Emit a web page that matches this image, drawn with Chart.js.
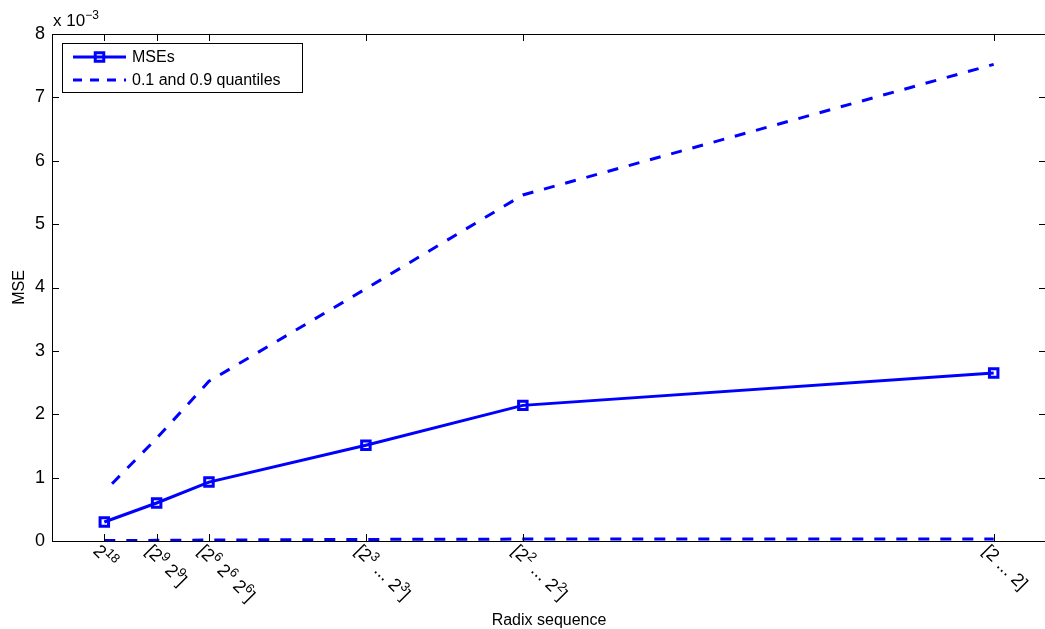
<!DOCTYPE html>
<html>
<head>
<meta charset="utf-8">
<script src="https://cdn.jsdelivr.net/npm/chart.js@4.4.1/dist/chart.umd.min.js"></script>
<style>
  html, body { margin: 0; padding: 0; background: #fff; overflow: hidden; }
  #wrap { position: relative; width: 1055px; height: 629px; }
</style>
</head>
<body>
<div id="wrap"><canvas id="graphs"></canvas></div>
<script>
// x position = number of stages in the radix sequence
const stages = [1, 2, 3, 6, 9, 18];
const radixLabels = ['2^{18}', '[2^9 2^9]', '[2^6 2^6 2^6]', '[2^3 ... 2^3]', '[2^2 ... 2^2]', '[2 ... 2]'];
const mse = [0.30e-3, 0.60e-3, 0.93e-3, 1.51e-3, 2.14e-3, 2.65e-3];
const q10 = [0.008e-3, 0.010e-3, 0.015e-3, 0.025e-3, 0.030e-3, 0.030e-3];
const q90 = [0.78e-3, 1.62e-3, 2.52e-3, 3.98e-3, 5.46e-3, 7.52e-3];
const yTickStep = 0.001;

const FONT = "'Liberation Sans', Arial, Helvetica, sans-serif";
const BLUE = 'rgb(0, 0, 255)';

const toPoints = arr => arr.map((v, i) => ({ x: stages[i], y: v }));

// split "2^{18}" style strings into normal / superscript runs
function parseTex(s) {
  const parts = [];
  const re = /\^(\{([^}]*)\}|(.))/g;
  let last = 0, m;
  while ((m = re.exec(s))) {
    if (m.index > last) parts.push({ t: s.slice(last, m.index), sup: false });
    parts.push({ t: m[2] !== undefined ? m[2] : m[3], sup: true });
    last = re.lastIndex;
  }
  if (last < s.length) parts.push({ t: s.slice(last), sup: false });
  return parts;
}

function drawRich(ctx, parts, x, y, size) {
  let cx = x;
  parts.forEach(p => {
    const fs = p.sup ? Math.round(size * 0.72) : size;
    ctx.font = fs + 'px ' + FONT;
    ctx.fillText(p.t, cx, p.sup ? y - size * 0.42 : y);
    cx += ctx.measureText(p.t).width;
  });
}

const axesDecor = {
  id: 'axesDecor',
  afterDraw(chart) {
    const { ctx, chartArea: a, scales: { x, y } } = chart;
    ctx.save();
    ctx.strokeStyle = '#000';
    ctx.lineWidth = 1;
    ctx.strokeRect(a.left + 0.5, a.top + 0.5, a.right - a.left, a.bottom - a.top);

    // inward tick marks on all four sides
    const tl = 7;
    ctx.beginPath();
    stages.forEach(v => {
      const px = Math.round(x.getPixelForValue(v)) + 0.5;
      ctx.moveTo(px, a.bottom); ctx.lineTo(px, a.bottom - tl);
      ctx.moveTo(px, a.top); ctx.lineTo(px, a.top + tl);
    });
    y.ticks.forEach(t => {
      const py = Math.round(y.getPixelForValue(t.value)) + 0.5;
      ctx.moveTo(a.left, py); ctx.lineTo(a.left + tl, py);
      ctx.moveTo(a.right, py); ctx.lineTo(a.right - tl, py);
    });
    ctx.stroke();

    // rotated radix labels
    ctx.fillStyle = '#000';
    ctx.textBaseline = 'alphabetic';
    ctx.textAlign = 'left';
    radixLabels.forEach((lab, i) => {
      const px = x.getPixelForValue(stages[i]);
      ctx.save();
      ctx.translate(px - 12, a.bottom + 11);
      ctx.rotate(Math.PI / 4);
      drawRich(ctx, parseTex(lab), 0, 0, 18);
      ctx.restore();
    });

    // axis titles
    ctx.font = '16px ' + FONT;
    ctx.textAlign = 'center';
    ctx.fillText('Radix sequence', (a.left + a.right) / 2, 625);
    ctx.save();
    ctx.translate(24, (a.top + a.bottom) / 2);
    ctx.rotate(-Math.PI / 2);
    ctx.fillText('MSE', 0, 0);
    ctx.restore();

    // exponent above the y axis
    ctx.textAlign = 'left';
    drawRich(ctx, [{ t: 'x 10', sup: false }, { t: '\u22123', sup: true }], a.left + 1, 26, 17);

    // legend
    const lx = 62, ly = 43, lw = 240, lh = 49;
    ctx.fillStyle = '#fff';
    ctx.fillRect(lx, ly, lw, lh);
    ctx.strokeStyle = '#000';
    ctx.lineWidth = 1;
    ctx.strokeRect(lx + 0.5, ly + 0.5, lw, lh);
    const rows = [
      { y: 57, label: 'MSEs', dash: [], marker: true },
      { y: 80, label: '0.1 and 0.9 quantiles', dash: [9, 8], marker: false }
    ];
    rows.forEach(r => {
      ctx.strokeStyle = BLUE;
      ctx.lineWidth = 3;
      ctx.setLineDash(r.dash);
      ctx.beginPath();
      ctx.moveTo(73, r.y); ctx.lineTo(126, r.y);
      ctx.stroke();
      ctx.setLineDash([]);
      if (r.marker) ctx.strokeRect(99.5 - 4.25, r.y - 4.25, 8.5, 8.5);
      ctx.fillStyle = '#000';
      ctx.font = '16px ' + FONT;
      ctx.textBaseline = 'middle';
      ctx.fillText(r.label, 132, r.y + 1);
    });
    ctx.restore();
  }
};

const config = {
  type: 'line',
  data: {
    datasets: [
      {
        label: 'MSEs',
        data: toPoints(mse),
        borderColor: BLUE,
        borderWidth: 3,
        pointStyle: 'rect',
        pointRadius: 6,
        pointBorderWidth: 3,
        pointBorderColor: BLUE,
        pointBackgroundColor: 'rgba(0,0,0,0)'
      },
      {
        label: '0.1 and 0.9 quantiles',
        data: toPoints(q90),
        borderColor: BLUE,
        borderWidth: 3,
        borderDash: [11, 11],
        borderDashOffset: 11,
        pointRadius: 0
      },
      {
        label: '0.1 quantile',
        data: toPoints(q10),
        borderColor: BLUE,
        borderWidth: 3,
        borderDash: [11, 11],
        pointRadius: 0
      }
    ]
  },
  options: {
    responsive: true,
    maintainAspectRatio: false,
    animation: false,
    layout: { padding: { left: 0, top: 34, right: 2, bottom: 88 } },
    elements: { line: { tension: 0 } },
    plugins: { legend: { display: false }, tooltip: { enabled: false } },
    scales: {
      x: {
        type: 'linear',
        min: 0,
        max: 19,
        afterBuildTicks: s => { s.ticks = stages.map(v => ({ value: v })); },
        ticks: { display: false },
        grid: { drawOnChartArea: false, drawTicks: false },
        border: { display: false },
        afterFit: s => { s.height = 0; }
      },
      y: {
        min: 0,
        max: 0.008,
        ticks: {
          stepSize: yTickStep,
          color: '#000',
          padding: 7,
          font: { family: FONT, size: 18 },
          callback: v => Math.round(v * 1000)
        },
        grid: { drawOnChartArea: false, drawTicks: false },
        border: { display: false },
        afterFit: s => { s.width = 52; }
      }
    }
  },
  plugins: [axesDecor]
};

window.onload = function() {
  const ctx = document.querySelector('#graphs').getContext('2d');
  window.radixChart = new Chart(ctx, config);
};
</script>
</body>
</html>
